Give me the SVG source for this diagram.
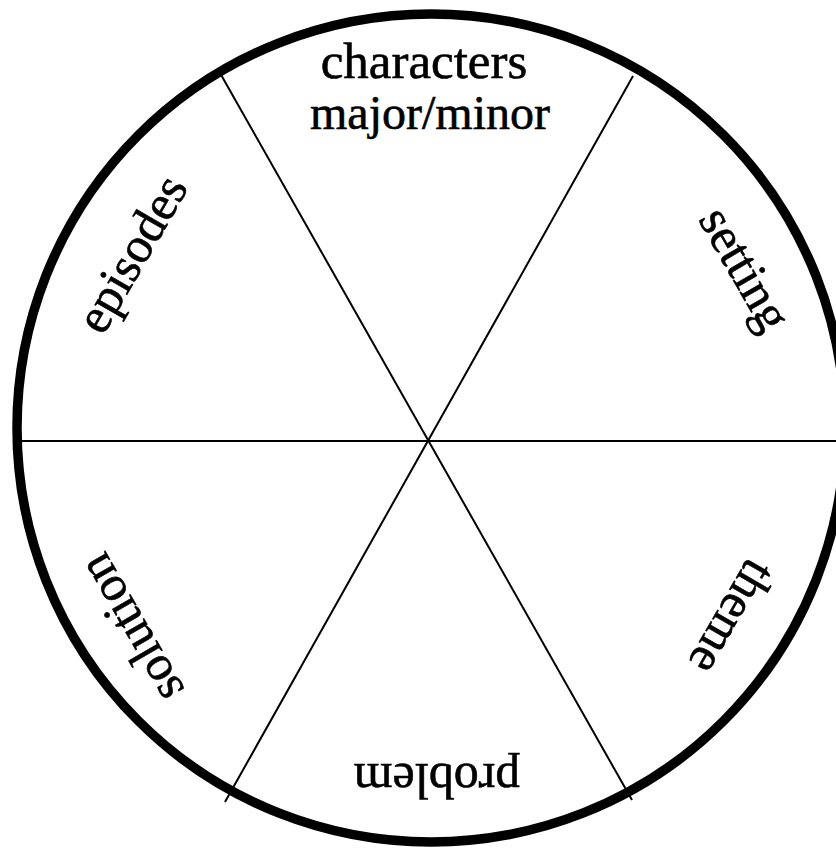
<svg xmlns="http://www.w3.org/2000/svg" width="836" height="848" viewBox="0 0 836 848">
<style>
.lbl{font-family:"Liberation Serif","Times New Roman",serif;font-size:50px;fill:#000;stroke:#000;stroke-width:0.6;text-anchor:middle}
.spoke{stroke:#000;stroke-width:2;fill:none}
</style>
<rect width="836" height="848" fill="#fff"/>
<g id="wheel">
<circle cx="431" cy="428" r="414" fill="none" stroke="#000" stroke-width="9.5"/>
</g>
<g id="connectors">
<line class="spoke" x1="16" y1="441" x2="836" y2="441"/>
<line class="spoke" x1="220" y1="73" x2="632" y2="800"/>
<line class="spoke" x1="633" y1="76" x2="225" y2="802"/>
</g>
<g id="characters">
<text class="lbl" x="424" y="78" style="font-size:51px">characters</text>
<text class="lbl" x="430" y="129" style="font-size:48px">major/minor</text>
</g>
<g id="setting">
<text class="lbl" transform="translate(731,277) rotate(60)">setting</text>
</g>
<g id="theme">
<text class="lbl" transform="translate(718,609) rotate(120)">theme</text>
</g>
<g id="problem">
<text class="lbl" transform="translate(437,764) rotate(180)">problem</text>
</g>
<g id="solution">
<text class="lbl" transform="translate(145,620) rotate(240)">solution</text>
</g>
<g id="episodes">
<text class="lbl" transform="translate(146,262) rotate(-60)">episodes</text>
</g>
</svg>
